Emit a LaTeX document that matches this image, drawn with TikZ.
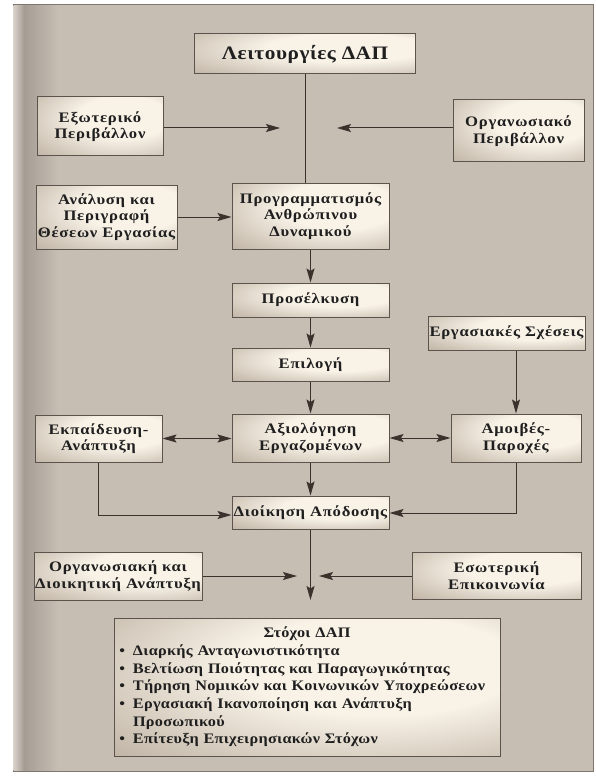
\documentclass[tikz,border=0pt]{standalone}
\usepackage{fontspec}
\setmainfont{Liberation Serif}
\usepackage{tikz}
\usetikzlibrary{arrows.meta}
\usetikzlibrary{calc}

\definecolor{PaperBg}{RGB}{198,190,179}
\definecolor{PaperShade}{RGB}{165,157,148}
\definecolor{BoxLight}{RGB}{248,242,231}
\definecolor{BoxDark}{RGB}{180,167,151}
\definecolor{BoxEdge}{RGB}{92,84,76}
\definecolor{LineCol}{RGB}{58,50,45}
\definecolor{FrameCol}{RGB}{125,119,112}

\pgfdeclareradialshading{boxglow}{\pgfpoint{12bp}{10bp}}{%
	color(0bp)=(BoxLight); color(18bp)=(BoxLight); color(48bp)=(BoxDark); color(80bp)=(BoxDark)}

\newcommand{\boxfont}{\bfseries\fontsize{14.5}{16.5}\selectfont\addfontfeature{FakeStretch=1.15,LetterSpace=5}}
\newcommand{\titlefont}{\bfseries\fontsize{19}{21}\selectfont\addfontfeature{FakeStretch=1.12,LetterSpace=3}}
\newcommand{\goalfont}{\bfseries\fontsize{14.5}{17.7}\selectfont\addfontfeature{FakeStretch=1.12,LetterSpace=2}}
\newcommand{\goalbullet}{\makebox[16pt][l]{\,•}}

\tikzset{
	dapbox/.style={draw=BoxEdge, line width=1pt, shading=boxglow, align=center, inner sep=0pt, font=\boxfont, text=black!88},
	flow/.style={draw=LineCol, line width=1pt, -{Stealth[length=14pt,width=8pt,inset=2.5pt]}},
	flowboth/.style={draw=LineCol, line width=1pt, {Stealth[length=14pt,width=8pt,inset=2.5pt]}-{Stealth[length=14pt,width=8pt,inset=2.5pt]}},
	link/.style={draw=LineCol, line width=1pt},
}

\begin{document}
\begin{tikzpicture}[x=1pt, y=-1pt]

	\useasboundingbox (0,0) rectangle (595,778);

	% ---------------------
	% Paper & frame
	\draw[FrameCol, line width=1pt, fill=PaperBg] (13,5) rectangle (593,771);
	\shade[left color=PaperBg!70!white, right color=PaperShade] (13.5,5.5) rectangle (24,770.5);
	\shade[left color=PaperShade, right color=PaperBg] (24,5.5) rectangle (58,770.5);

	% ---------------------
	% Positions
	\coordinate (Leit)     at (305.0, 54.0);
	\coordinate (Exot)     at (100.0,126.5);
	\coordinate (Organ)    at (518.5,131.0);
	\coordinate (Anal)     at (106.5,217.0);
	\coordinate (Prog)     at (310.5,216.0);
	\coordinate (Prosel)   at (310.5,300.0);
	\coordinate (Epil)     at (310.5,364.5);
	\coordinate (ErgS)     at (506.5,333.0);
	\coordinate (Ekp)      at ( 98.5,438.5);
	\coordinate (Axiol)    at (310.5,438.0);
	\coordinate (Amoib)    at (516.0,438.0);
	\coordinate (Dioik)    at (310.5,512.5);
	\coordinate (OrgDioik) at (118.0,576.0);
	\coordinate (Esot)     at (496.5,575.5);
	\coordinate (Goals)    at (307.0,687.0);

	% free arrow ends
	\coordinate (ExotTip)  at (280,128);
	\coordinate (OrganTip) at (337,128);
	\coordinate (OrgDTip)  at (297,576);
	\coordinate (EsotTip)  at (319,576);
	\coordinate (GoalTip)  at (310.5,600);

	% ---------------------
	% Boxes
	\node[dapbox, font=\titlefont, minimum width=221pt, minimum height=40pt] (leit) at (Leit) {Λειτουργίες ΔΑΠ};
	\node[dapbox, minimum width=126pt, minimum height=59pt] (exot) at (Exot) {Εξωτερικό\\Περιβάλλον};
	\node[dapbox, minimum width=131pt, minimum height=62pt] (organ) at (Organ) {Οργανωσιακό\\Περιβάλλον};
	\node[dapbox, minimum width=141pt, minimum height=64pt] (anal) at (Anal) {Ανάλυση και\\Περιγραφή\\Θέσεων Εργασίας};
	\node[dapbox, minimum width=157pt, minimum height=66pt] (prog) at (Prog) {Προγραμματισμός\\Ανθρώπινου\\Δυναμικού};
	\node[dapbox, minimum width=157pt, minimum height=34pt] (prosel) at (Prosel) {Προσέλκυση};
	\node[dapbox, minimum width=157pt, minimum height=33pt] (epil) at (Epil) {Επιλογή};
	\node[dapbox, minimum width=157pt, minimum height=34pt] (ergs) at (ErgS) {Εργασιακές Σχέσεις};
	\node[dapbox, minimum width=127pt, minimum height=47pt] (ekp) at (Ekp) {Εκπαίδευση-\\Ανάπτυξη};
	\node[dapbox, minimum width=157pt, minimum height=48pt] (axiol) at (Axiol) {Αξιολόγηση\\Εργαζομένων};
	\node[dapbox, minimum width=130pt, minimum height=48pt] (amoib) at (Amoib) {Αμοιβές-\\Παροχές};
	\node[dapbox, minimum width=157pt, minimum height=33pt] (dioik) at (Dioik) {Διοίκηση Απόδοσης};
	\node[dapbox, minimum width=168pt, minimum height=48pt] (orgdioik) at (OrgDioik) {Οργανωσιακή και\\Διοικητική Ανάπτυξη};
	\node[dapbox, minimum width=169pt, minimum height=47pt] (esot) at (Esot) {Εσωτερική\\Επικοινωνία};

	\node[dapbox, minimum width=386pt, minimum height=138pt, text width=380pt, align=left, font=\goalfont] (goals) at (Goals)
		{\centering Στόχοι ΔΑΠ\par
		 \raggedright
		 \goalbullet Διαρκής Ανταγωνιστικότητα\\
		 \goalbullet Βελτίωση Ποιότητας και Παραγωγικότητας\\
		 \goalbullet Τήρηση Νομικών και Κοινωνικών Υποχρεώσεων\\
		 \goalbullet Εργασιακή Ικανοποίηση και Ανάπτυξη\\
		 \hspace*{16pt}Προσωπικού\\
		 \goalbullet Επίτευξη Επιχειρησιακών Στόχων};

	% ---------------------
	% Connectors
	\path[link] (leit.south) -- (leit.south |- prog.north);
	\path[flow] (exot.east |- ExotTip) -- (ExotTip);
	\path[flow] (organ.west |- OrganTip) -- (OrganTip);
	\path[flow] (anal.east) -- (anal.east -| prog.west);

	\path[flow] (prog) -- (prosel);
	\path[flow] (prosel) -- (epil);
	\path[flow] (epil) -- (axiol);
	\path[flow] (axiol) -- (dioik);

	\path[flowboth] (ekp.east) -- (ekp.east -| axiol.west);
	\path[flowboth] (axiol.east) -- (axiol.east -| amoib.west);
	\path[flow] (amoib.north |- ergs.south) -- (amoib.north);

	\path[flow] (ekp.south) |- ($(dioik.west)+(0,2.5)$);
	\path[flow] (amoib.south) |- ($(dioik.east)+(0,0.5)$);

	\path[flow] (dioik.south) -- (GoalTip);
	\path[flow] (orgdioik.east |- OrgDTip) -- (OrgDTip);
	\path[flow] (esot.west |- EsotTip) -- (EsotTip);

\end{tikzpicture}
\end{document}
